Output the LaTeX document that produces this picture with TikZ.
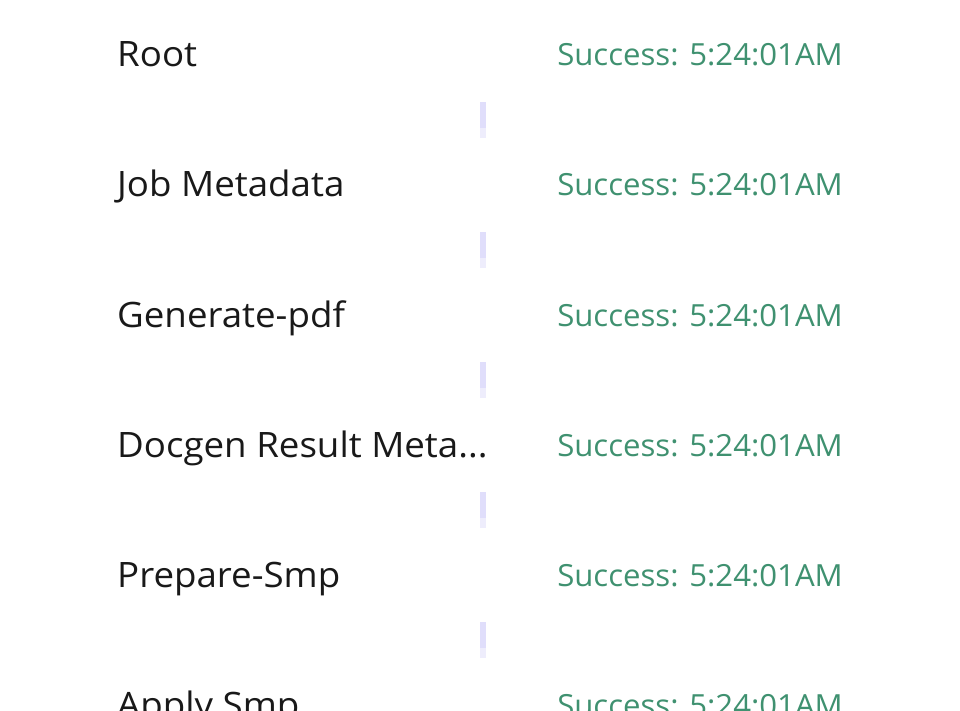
\documentclass[tikz,border=0pt]{standalone}
\usepackage{fontspec}
\setmainfont{Open Sans}
\newfontfamily\namefont[FakeStretch=1.048]{Open Sans}
\newfontfamily\statefont[FakeStretch=1.021]{Open Sans}
\usetikzlibrary{positioning,calc}
\definecolor{okgreen}{HTML}{3F9170}
\definecolor{linkbar}{HTML}{E0DEFB}
\definecolor{linkfade}{HTML}{EEEDFC}
\newcommand{\trail}{.\kern0pt.\kern0pt.}
\tikzset{
  stepname/.style={anchor=base west,inner sep=0pt,font=\namefont\fontsize{35}{40}\selectfont,text=black!90},
  stepstate/.style={anchor=base east,inner sep=0pt,font=\statefont\fontsize{30.5}{36}\selectfont,text=okgreen},
  linkbox/.style={fill=linkbar,draw=none},
  linktail/.style={fill=linkfade,draw=none}
}

\begin{document}
\begin{tikzpicture}[x=1pt,y=-1pt]
		\useasboundingbox (0,0) rectangle (960,711);
		\clip (0,0) rectangle (960,711);
		\fill[white] (0,0) rectangle (960,711);
		% one row each 130 units, baselines first
		\foreach \i/\name [evaluate=\i as \yb using 67+130*(\i-1)] in {1/Root,2/Job Metadata,3/Generate-pdf,4/{Docgen Result Meta\trail},5/Prepare-Smp,6/Apply Smp}{
			\node[stepname] (n\i) at (117,\yb) {\name};
			\node[stepstate] (s\i) at (843,\yb-1) {Success: 5:24:01AM};
		}
		% short bars between the rows
		\foreach \i [evaluate=\i as \yt using 102+130*(\i-1)] in {1,2,3,4,5}{
			\coordinate (l\i) at (480,\yt);
			\fill[linkbox] (l\i) rectangle ++(6,26);
			\fill[linktail] ($(l\i)+(0,26)$) rectangle ++(6,10);
		}
\end{tikzpicture}
\end{document}
